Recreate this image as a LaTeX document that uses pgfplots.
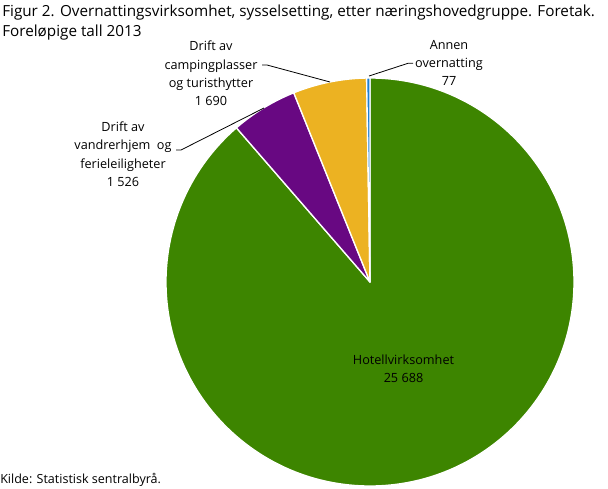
\documentclass[border=0pt]{standalone}
\usepackage{pgfplots}
\pgfplotsset{compat=1.18}
\usepackage{pgfplotstable}
\usepackage{fontspec}
\setmainfont{Open Sans}
\definecolor{cgreen}{RGB}{61,133,0}
\definecolor{cpurple}{RGB}{104,8,130}
\definecolor{cyellow}{RGB}{236,178,34}
\definecolor{cblue}{RGB}{30,128,210}
\pgfplotstableread{
label value
Hotellvirksomhet 25688
Vandrerhjem 1526
Camping 1690
Annen 77
}\piedata
\begin{document}
\begin{tikzpicture}
\pgfplotstablegetelem{0}{value}\of\piedata \edef\va{\pgfplotsretval}
\pgfplotstablegetelem{1}{value}\of\piedata \edef\vb{\pgfplotsretval}
\pgfplotstablegetelem{2}{value}\of\piedata \edef\vc{\pgfplotsretval}
\pgfplotstablegetelem{3}{value}\of\piedata \edef\vd{\pgfplotsretval}
\xdef\tot{\fpeval{\va+\vb+\vc+\vd}}
\xdef\aA{\fpeval{360*\va/\tot}}
\xdef\aB{\fpeval{360*(\va+\vb)/\tot}}
\xdef\aC{\fpeval{360*(\va+\vb+\vc)/\tot}}
\xdef\aD{360}
\begin{axis}[scale only axis, width=456pt, height=366.75pt,
  xmin=0, xmax=608, ymin=0, ymax=489, y dir=reverse,
  hide axis, clip=false]
\path (axis cs:0,0) (axis cs:608,489);
\def\wedge#1#2#3{%
  \filldraw[fill=#1, draw=white, line width=1pt, line join=round]
   (axis cs:370,282) -- (axis cs:{370+204*sin(#2)},{282-204*cos(#2)})
   arc[start angle={90-#2}, end angle={90-#3}, radius=153pt] -- cycle;}
\wedge{cgreen}{0}{\aA}
\wedge{cpurple}{\aA}{\aB}
\wedge{cyellow}{\aB}{\aC}
\wedge{cblue}{\aC}{\aD}
% title
\node[anchor=north west, align=left, inner sep=0pt, font=\fontsize{11.45}{15}\selectfont]
  at (axis cs:2,5) {Figur 2. Overnattingsvirksomhet, sysselsetting, etter næringshovedgruppe. Foretak.\\Foreløpige tall 2013};
% source
\node[anchor=west, inner sep=0pt, font=\fontsize{9.4}{11}\selectfont] at (axis cs:0,480) {Kilde: Statistisk sentralbyrå.};
% labels
\tikzset{lbl/.style={align=center, inner sep=0pt, font=\fontsize{9.5}{13.6}\selectfont}}
\node[lbl] at (axis cs:211,73.3)
  {Drift av\\campingplasser\\og turisthytter\\1 690};
\node[lbl] at (axis cs:123,154.2)
  {Drift av\\vandrerhjem\ \ og\\ferieleiligheter\\1 526};
\node[lbl] at (axis cs:449,62.7)
  {Annen\\overnatting\\77};
\node[lbl] at (axis cs:403.5,368.5)
  {Hotellvirksomhet\\25 688};
% leader lines
\draw[black, line width=0.6pt] (axis cs:262,65) -- (axis cs:267,65) -- (axis cs:330,82);
\draw[black, line width=0.6pt] (axis cs:176,150) -- (axis cs:181,150) -- (axis cs:264,108);
\draw[black, line width=0.6pt] (axis cs:369,76) -- (axis cs:408,63.3) -- (axis cs:413,63.3);
\end{axis}
\end{tikzpicture}
\end{document}
